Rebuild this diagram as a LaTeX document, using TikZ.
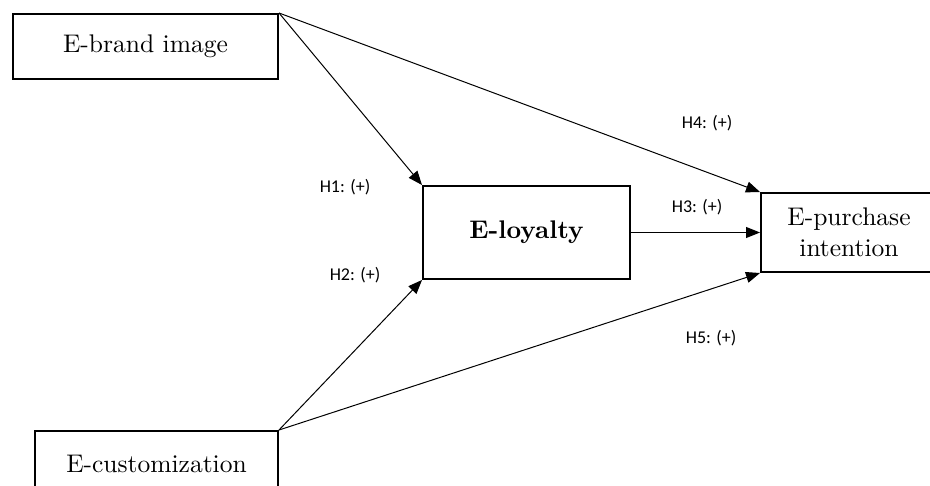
\documentclass[tikz,border=0pt]{standalone}
\usepackage{fontspec}
\newfontfamily\hypfont{Carlito}
\usetikzlibrary{arrows.meta}

\begin{document}
\begin{tikzpicture}[x=0.4pt,y=-0.4pt,
  box/.style={draw,line width=0.8pt,inner sep=0pt,align=center,font=\fontsize{10.2}{12.5}\selectfont},
  hyp/.style={font=\hypfont\fontsize{7.2}{8.5}\selectfont},
  arr/.style={line width=0.4pt,-{Triangle[length=5.6pt,width=4.4pt]}}]
  \useasboundingbox (0,0) rectangle (930,485);
  \node[box,minimum width=106pt,minimum height=26pt] (brand) at (145.5,46.5) {E-brand image};
  \node[box,minimum width=82.8pt,minimum height=37.2pt] (loyal) at (526.5,232.5) {\textbf{E-loyalty}};
  \node[box,minimum width=70.4pt,minimum height=31.6pt] (purch) at (849,232.5) {E-purchase\\intention};
  \node[box,minimum width=97.2pt,minimum height=26.4pt] (cust) at (156.5,464) {E-customization};
  \draw[arr] (brand.north east) -- (loyal.north west);
  \draw[arr] (brand.north east) -- (purch.north west);
  \draw[arr] (loyal.east) -- (purch.west);
  \draw[arr] (cust.north east) -- (loyal.south west);
  \draw[arr] (cust.north east) -- (purch.south west);
  \node[hyp] (h1) at (345,187) {H1: (+)};
  \node[hyp] (h2) at (355,275) {H2: (+)};
  \node[hyp] (h3) at (697,207) {H3: (+)};
  \node[hyp] (h4) at (707,123) {H4: (+)};
  \node[hyp] (h5) at (711,338) {H5: (+)};
\end{tikzpicture}
\end{document}
